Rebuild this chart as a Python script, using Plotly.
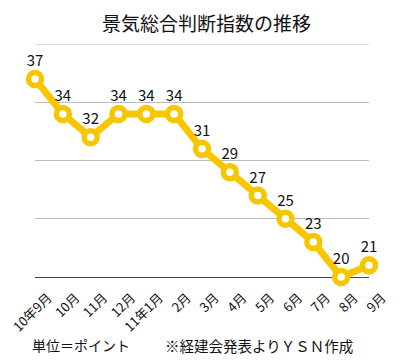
import plotly.graph_objects as go

categories = ["10年9月", "10月", "11月", "12月", "11年1月", "2月", "3月",
              "4月", "5月", "6月", "7月", "8月", "9月"]
values = [37, 34, 32, 34, 34, 34, 31, 29, 27, 25, 23, 20, 21]
y_ticks = [20, 25, 30, 35, 40]

# page body has an 8px default margin, so the figure is drawn 8px in
OFF = 8
W, H = 405 - OFF, 363 - OFF
L, R, T, B = 35 - OFF, 36, 44 - OFF, 86
FONT = "Noto Sans CJK JP"
YEL = "#F7C600"

xs = list(range(len(categories)))

fig = go.Figure()
fig.add_trace(go.Scatter(
    x=xs, y=values, mode="lines+markers+text",
    text=[str(v) for v in values], textposition="top center",
    textfont=dict(family=FONT, size=15, color="#111111"),
    line=dict(color=YEL, width=7),
    marker=dict(size=13, color="white", line=dict(color=YEL, width=5.5)),
    cliponaxis=False, hoverinfo="skip",
))

def px_x(p):
    p -= OFF
    return (p - L) / (W - L - R)

def px_y(p):
    p -= OFF
    return (H - B - p) / (H - T - B)

fig.add_shape(type="line", xref="paper", x0=0, x1=1,
              yref="y", y0=y_ticks[-1], y1=y_ticks[-1],
              line=dict(color="#BBBBBB", width=1), layer="below")

fig.update_layout(
    width=W, height=H,
    margin=dict(l=L, r=R, t=T, b=B, autoexpand=False),
    paper_bgcolor="white", plot_bgcolor="white",
    showlegend=False,
    font=dict(family=FONT, color="#111111"),
    xaxis=dict(
        range=[0, len(categories) - 1], tickmode="array", tickvals=xs,
        ticktext=categories, tickangle=-45, showgrid=False, zeroline=False,
        showline=True, linecolor="#444444", linewidth=1, ticks="",
        tickfont=dict(family=FONT, size=13, color="#111111"),
        layer="below traces", ticklabelshift=13, ticklabelstandoff=7,
        automargin=False, fixedrange=True,
    ),
    yaxis=dict(
        range=[y_ticks[0], y_ticks[-1]], tickmode="array", tickvals=y_ticks,
        showticklabels=False, showgrid=True, gridcolor="#BBBBBB", gridwidth=1,
        zeroline=False, showline=False, ticks="", layer="below traces",
        automargin=False, fixedrange=True,
    ),
    annotations=[
        dict(text="景気総合判断指数の推移", x=px_x(207), y=px_y(22),
             xref="paper", yref="paper", showarrow=False,
             font=dict(family=FONT, size=19, color="#111111"),
             xanchor="center", yanchor="middle"),
        dict(text="単位＝ポイント", x=px_x(30), y=px_y(345),
             xref="paper", yref="paper", showarrow=False,
             font=dict(family=FONT, size=14, color="#111111"),
             xanchor="left", yanchor="middle"),
        dict(text="※経建会発表よりＹＳＮ作成", x=px_x(163), y=px_y(345),
             xref="paper", yref="paper", showarrow=False,
             font=dict(family=FONT, size=14.5, color="#111111"),
             xanchor="left", yanchor="middle"),
    ],
)

fig.write_html("out.html")
